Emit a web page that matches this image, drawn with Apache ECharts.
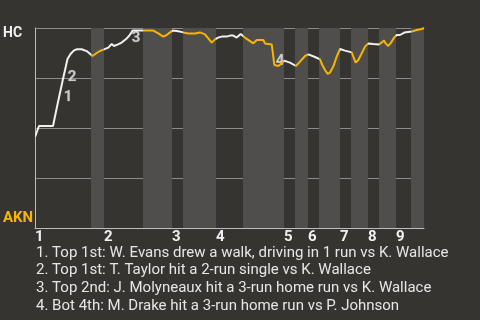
<!DOCTYPE html>
<html>
<head>
<meta charset="utf-8">
<script src="https://cdn.jsdelivr.net/npm/echarts@6/dist/echarts.min.js"></script>
<style>html,body{margin:0;padding:0;background:#363431;}#c{width:480px;height:320px;}</style>
</head>
<body>
<div id="c"></div>
<script>
// Game progress (x) and HC win probability in % (y)
const wpX = [0,4,18,23,28,32.5,35.5,39,42,46.7,52.3,57.5,61.7,65,69,73.3,76.7,79,83,86.7,91.7,94,97.7,108.3,118.3,123.3,128.3,131.7,135,137.7,145,148.3,153.3,160,165,170,173.3,176.7,180,183,186.7,191.7,195,198.3,201.7,205.7,207.7,211,214.3,218.3,221.7,228.3,230,236.7,237.7,239.3,243.3,246.7,249,255,261,265,270,273.3,280,285,287.3,290,292.7,295,298.3,301.7,305,310,316.7,318.3,320.7,323.3,326.7,330,333.3,338.3,344,346.7,349,350.7,353.3,356,359.3,361.7,365,366,369.3,376.7,381.7,386.7,389];
const wpY = [45.5,51,51,63,74.5,84.5,87,88.8,89.4,89.4,88.3,86,87.5,88.5,89.3,90.2,92,91,91.8,92.7,94.8,96,98.7,98.7,98.7,97.3,95.7,96.5,97.8,98.7,98.2,97.8,97.3,97.3,97.8,96.8,94.8,92.7,94.3,95.2,95.7,95.7,96.2,96.2,95.2,97,96.5,94.8,93.7,92.3,94,94,92.3,91.8,88.2,81.5,81,82.3,83.7,82.7,81,83.2,86,86.8,85.5,84.3,81.5,79,77,77.7,80.7,85.7,89.5,88.7,87.8,85.7,82.7,84,87.3,90.7,92.3,92,91.8,92.7,93.7,92.3,91,92.7,95.3,96.5,96.5,96,97.7,98.2,99,99.5,100];
// Half-inning start positions (top/bottom alternate), game end
const halfStarts = [0,56,69,108,137,148,181,208,249,260,273,284,305,316,333,344,361,376];
const gameEnd = 389;
const inningLabels = ['1','2','3','4','5','6','7','8','9'];
// Annotations: label, x, y
const noteLabels = ['1','2','3','4'];
const noteX = [33,37,101,245];
const noteY = [65.5,75.5,95,83.5];
const notes = [
  '1. Top 1st: W. Evans drew a walk, driving in 1 run vs K. Wallace',
  '2. Top 1st: T. Taylor hit a 2-run single vs K. Wallace',
  '3. Top 2nd: J. Molyneaux hit a 3-run home run vs K. Wallace',
  '4. Bot 4th: M. Drake hit a 3-run home run vs P. Johnson'
];

const WHITE = '#f0f0ee', ORANGE = '#f7b500', BAND = '#4f4e4c', BG = '#363431';
const inningStarts = halfStarts.filter((v, i) => i % 2 === 0);
const pieces = [], bands = [];
halfStarts.forEach((s, i) => {
  const e = i + 1 < halfStarts.length ? halfStarts[i + 1] : gameEnd;
  const p = { gte: s, color: i % 2 === 0 ? WHITE : ORANGE };
  if (i + 1 < halfStarts.length) p.lt = e; else p.lte = e + 1;
  pieces.push(p);
  if (i % 2 === 1) bands.push([{ xAxis: s }, { xAxis: e }]);
});

const chart = echarts.init(document.getElementById('c'), null, { renderer: 'canvas' });
chart.setOption({
  backgroundColor: BG,
  animation: false,
  textStyle: { fontFamily: 'Roboto' },
  title: {
    text: notes.join('\n'), left: 36, top: 244, padding: 0,
    textStyle: { color: '#e6e6e6', fontSize: 15, fontWeight: 'normal', lineHeight: 17.8, fontFamily: 'Roboto' }
  },
  grid: { left: 35, top: 28, right: 56, bottom: 92, containLabel: false },
  xAxis: {
    type: 'value', min: 0, max: gameEnd,
    splitLine: { show: false }, axisTick: { show: false },
    axisLine: { show: true, lineStyle: { color: '#bdbdbb', width: 1 } },
    axisLabel: {
      customValues: inningStarts, align: 'left', margin: 2,
      color: '#f0f0f0', fontSize: 15, fontWeight: 'bold', fontFamily: 'Roboto',
      formatter: v => inningLabels[inningStarts.indexOf(v)] || ''
    }
  },
  yAxis: {
    type: 'value', min: 0, max: 100, interval: 25,
    axisLabel: { show: false }, axisTick: { show: false },
    axisLine: { show: true, lineStyle: { color: '#bdbdbb', width: 1 } },
    splitLine: { show: true, lineStyle: { color: '#8c8b89', width: 1 } }
  },
  graphic: [
    { type: 'text', left: 3, top: 26, style: { text: 'HC', fill: '#f0f0f0', font: 'bold 14px Roboto' } },
    { type: 'text', left: 3, top: 211, style: { text: 'AKN', fill: ORANGE, font: 'bold 15px Roboto' } }
  ],
  visualMap: { show: false, type: 'piecewise', dimension: 0, seriesIndex: 1, pieces: pieces },
  series: [
    { type: 'line', z: -1, data: [], silent: true,
      markArea: { silent: true, itemStyle: { color: BAND }, data: bands } },
    { type: 'line', showSymbol: false, smooth: false,
      lineStyle: { width: 2 },
      data: wpX.map((x, i) => [x, wpY[i]]) },
    { type: 'scatter', symbolSize: 0, silent: true,
      data: noteX.map((x, i) => ({ value: [x, noteY[i]], name: noteLabels[i] })),
      label: { show: true, position: 'inside', formatter: p => p.name,
        color: '#eeeeee', fontSize: 15, fontWeight: 'bold', fontFamily: 'Roboto',
        textBorderColor: '#555555', textBorderWidth: 1 } }
  ]
});
</script>
</body>
</html>
